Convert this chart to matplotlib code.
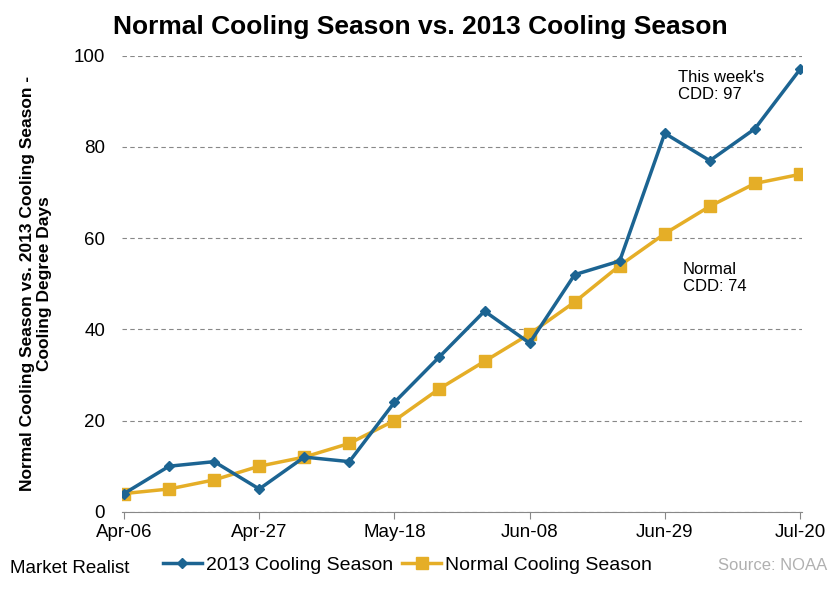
import numpy as np
import matplotlib.pyplot as plt

plt.rcParams['font.family'] = ['Liberation Sans', 'DejaVu Sans']

semanas = ['Apr-06', 'Apr-13', 'Apr-20', 'Apr-27', 'May-04', 'May-11', 'May-18', 'May-25',
           'Jun-01', 'Jun-08', 'Jun-15', 'Jun-22', 'Jun-29', 'Jul-06', 'Jul-13', 'Jul-20']
cdd_2013 = [4, 10, 11, 5, 12, 11, 24, 34, 44, 37, 52, 55, 83, 77, 84, 97]
cdd_normal = [4, 5, 7, 10, 12, 15, 20, 27, 33, 39, 46, 54, 61, 67, 72, 74]

azul = '#1c6492'
ouro = '#e5ae27'

x = np.arange(len(semanas))

fig = plt.figure(figsize=(8.4, 6), dpi=100)
ax = fig.add_axes([0.145, 0.147, 0.81, 0.76])

ax.plot(x, cdd_2013, color=azul, lw=2.5, marker='D', ms=5, label='2013 Cooling Season', zorder=4)
ax.plot(x, cdd_normal, color=ouro, lw=2.5, marker='s', ms=8, label='Normal Cooling Season', zorder=3)

ax.set_xlim(-0.05, 15.05)
ax.set_ylim(0, 100)
ax.set_yticks(range(0, 101, 20))
ax.set_xticks(x[::3])
ax.set_xticklabels(semanas[::3])
ax.tick_params(axis='x', labelsize=13.5, length=5, color='#888888', pad=4)
ax.tick_params(axis='y', labelsize=13.5, length=0, pad=12)
for sp in ['top', 'right', 'left']:
    ax.spines[sp].set_visible(False)
ax.spines['bottom'].set_color('#888888')
ax.yaxis.grid(True, ls=(0, (4, 3)), color='#888888', lw=0.8)
ax.set_axisbelow(True)

ax.set_ylabel('Normal Cooling Season vs. 2013 Cooling Season -\nCooling Degree Days',
              fontsize=12.5, fontweight='bold', labelpad=16, linespacing=1.1)

fig.text(0.5, 0.955, 'Normal Cooling Season vs. 2013 Cooling Season',
         ha='center', va='center', fontsize=19, fontweight='bold')

ax.text(12.3, 96.8, "This week's\nCDD: 97", fontsize=12, va='top', linespacing=1.15)
ax.text(12.4, 54.8, "Normal\nCDD: 74", fontsize=12, va='top', linespacing=1.15)

fig.legend(loc='center', bbox_to_anchor=(0.485, 0.058), ncol=2, frameon=False,
           fontsize=14, handlelength=2.0, handletextpad=0.2, columnspacing=0.5)

fig.text(0.012, 0.052, 'Market Realist', fontsize=13.5, va='center', ha='left')
fig.text(0.985, 0.058, 'Source: NOAA', fontsize=12, va='center', ha='right', color='#b0b0b0')

plt.savefig('out.png', dpi=100)
